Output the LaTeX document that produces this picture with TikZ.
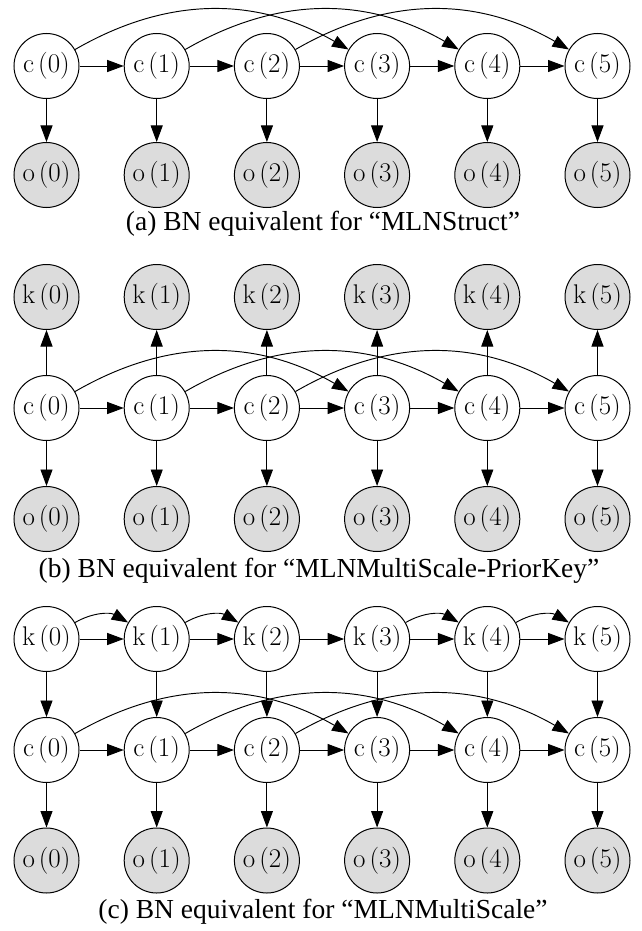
\documentclass[tikz,border=0pt]{standalone}
\usepackage{fontspec}
\newfontfamily\capfont{Liberation Serif}
\usetikzlibrary{arrows.meta}
\definecolor{obsgray}{RGB}{220,220,220}
\begin{document}
\begin{tikzpicture}[x=1pt,y=-1pt,
  var/.style={circle,draw,line width=1pt,minimum size=65pt,inner sep=0pt,font=\fontsize{27}{31}\selectfont},
  obs/.style={var,fill=obsgray},
  edge/.style={line width=0.95pt,-{Triangle[length=16.5pt,width=12pt]}},
  captext/.style={anchor=base,inner sep=0pt,font=\capfont\fontsize{27.5}{32}\selectfont}]
\useasboundingbox (0,0) rectangle (641,931);
% ---------- panel (a)
\foreach \i in {0,...,5}{
  \pgfmathsetmacro\x{46.5+110.2*\i}
  \node[var] (ac\i) at (\x,66) {c\hspace{0.15em}(\i)};
  \node[obs] (ao\i) at (\x,175) {o\hspace{0.15em}(\i)};
  \draw[edge] (ac\i) -- (ao\i);
}
\foreach \i [evaluate=\i as \j using int(\i+1)] in {0,...,4}
  \draw[edge] (ac\i) -- (ac\j);
\foreach \i [evaluate=\i as \j using int(\i+3)] in {0,1,2}
  \draw[edge] (ac\i) to[bend left=30] (ac\j);
\node[captext] (capa) at (323,230) {(a) BN equivalent for “MLNStruct”};
% ---------- panel (b)
\foreach \i in {0,...,5}{
  \pgfmathsetmacro\x{46.5+110.2*\i}
  \node[obs] (bk\i) at (\x,297) {k\hspace{0.15em}(\i)};
  \node[var] (bc\i) at (\x,408) {c\hspace{0.15em}(\i)};
  \node[obs] (bo\i) at (\x,519) {o\hspace{0.15em}(\i)};
  \draw[edge] (bc\i) -- (bk\i);
  \draw[edge] (bc\i) -- (bo\i);
}
\foreach \i [evaluate=\i as \j using int(\i+1)] in {0,...,4}
  \draw[edge] (bc\i) -- (bc\j);
\foreach \i [evaluate=\i as \j using int(\i+3)] in {0,1,2}
  \draw[edge] (bc\i) to[bend left=30] (bc\j);
\node[captext] (capb) at (319,577) {(b) BN equivalent for “MLNMultiScale-PriorKey”};
% ---------- panel (c)
\foreach \i in {0,...,5}{
  \pgfmathsetmacro\x{46.5+110.2*\i}
  \node[var] (ck\i) at (\x,639) {k\hspace{0.15em}(\i)};
  \node[var] (cc\i) at (\x,750) {c\hspace{0.15em}(\i)};
  \node[obs] (co\i) at (\x,860.5) {o\hspace{0.15em}(\i)};
  \draw[edge] (ck\i) -- (cc\i);
  \draw[edge] (cc\i) -- (co\i);
}
\foreach \i [evaluate=\i as \j using int(\i+1)] in {0,...,4}{
  \draw[edge] (ck\i) -- (ck\j);
  \draw[edge] (cc\i) -- (cc\j);
}
\foreach \i [evaluate=\i as \j using int(\i+1)] in {0,1,3,4}
  \draw[edge] (ck\i) to[bend left=30] (ck\j);
\foreach \i [evaluate=\i as \j using int(\i+3)] in {0,1,2}
  \draw[edge] (cc\i) to[bend left=30] (cc\j);
\node[captext] (capc) at (323,918) {(c) BN equivalent for “MLNMultiScale”};
\end{tikzpicture}
\end{document}
